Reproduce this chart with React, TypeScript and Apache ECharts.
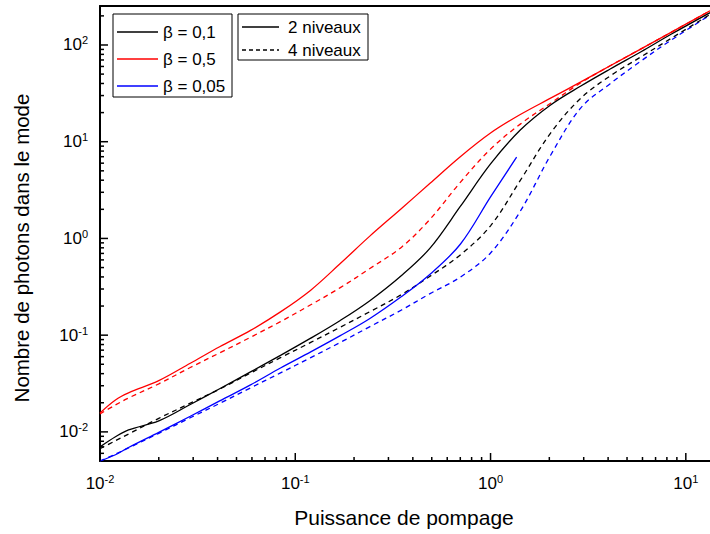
import React, { useEffect, useRef } from "react";
import * as echarts from "echarts";

// Pump power (x) sample points
const pump = [0.01, 0.012, 0.014, 0.02, 0.029, 0.041, 0.059, 0.084, 0.12, 0.17, 0.24, 0.35, 0.49, 0.7, 1.0, 1.42, 2.03, 2.9, 4.1, 5.9, 8.4, 13.3];
const pumpBlue2 = [0.01, 0.012, 0.014, 0.02, 0.029, 0.041, 0.059, 0.084, 0.12, 0.17, 0.24, 0.35, 0.49, 0.7, 1.0, 1.36];

// Photon numbers in the mode
const beta01Two = [0.007, 0.0089, 0.0105, 0.013, 0.0192, 0.0279, 0.0417, 0.0618, 0.0931, 0.142, 0.226, 0.414, 0.794, 2.14, 5.89, 13.2, 24.0, 37.7, 56.5, 85.1, 129, 216];
const beta01Four = [0.0067, 0.0081, 0.0095, 0.0138, 0.0198, 0.0277, 0.0406, 0.0585, 0.0841, 0.121, 0.174, 0.263, 0.407, 0.676, 1.35, 3.98, 12.3, 28.2, 47.9, 75.5, 117, 207];
const beta05Two = [0.0157, 0.0214, 0.0253, 0.0339, 0.0513, 0.0759, 0.112, 0.174, 0.292, 0.55, 1.05, 2.04, 3.72, 7.0, 12.3, 19.1, 28.2, 41.5, 61.0, 91.2, 135, 226];
const beta05Four = [0.0153, 0.019, 0.0224, 0.0314, 0.0463, 0.0656, 0.0951, 0.138, 0.206, 0.31, 0.486, 0.813, 1.58, 3.8, 8.38, 15.2, 25.0, 40.7, 61.0, 91.2, 135, 226];
const beta005Two = [0.005, 0.0058, 0.0069, 0.0099, 0.0145, 0.0209, 0.0306, 0.0458, 0.0672, 0.0989, 0.148, 0.251, 0.427, 0.871, 2.69, 6.92];
const beta005Four = [0.005, 0.00589, 0.00684, 0.00966, 0.014, 0.0197, 0.0285, 0.0407, 0.0586, 0.0841, 0.122, 0.182, 0.269, 0.398, 0.708, 1.91, 7.24, 22.4, 39.8, 68.4, 112, 204];

const xMin = 0.01;
const xMax = 13.3;
const yMin = 0.005;
const yMax = 253;

const legendBeta = ["β = 0,1", "β = 0,5", "β = 0,05"];
const legendBetaColors = ["#000000", "#ff0000", "#0000ff"];
const legendLevels = ["2 niveaux", "4 niveaux"];
const xTitle = "Puissance de pompage";
const yTitle = "Nombre de photons dans le mode";

const FONT = "'Liberation Sans', Arial, Helvetica, sans-serif";

function pairs(xs: number[], ys: number[]) {
  return ys.map((y, i) => [xs[i], y]);
}

function powLabel(v: number) {
  const l = Math.log10(v);
  const e = Math.round(l);
  if (Math.abs(l - e) > 1e-6) return "";
  return "{b|10}{s|" + e + "}";
}

function buildTicks() {
  const out: number[][] = [];
  for (let k = -3; k <= 3; k++) {
    for (let m = 1; m <= 9; m++) {
      const v = m * Math.pow(10, k);
      const major = m === 1 ? 8 : 4;
      if (v >= xMin - 1e-12 && v <= xMax) out.push([v, yMin, major, 0]);
      if (v > yMin + 1e-12 && v <= yMax) out.push([xMin, v, major, 1]);
    }
  }
  return out;
}

const rich = {
  b: { fontSize: 17, fontFamily: FONT, color: "#000", lineHeight: 20 },
  s: { fontSize: 11, fontFamily: FONT, color: "#000", verticalAlign: "top", lineHeight: 12 },
};

export default function App() {
  const ref = useRef<HTMLDivElement>(null);
  useEffect(() => {
    if (!ref.current) return;
    const chart = echarts.init(ref.current, null, { renderer: "svg" });
    const solid = (color: string) => ({ color, width: 1.3, type: "solid" as const });
    const dashed = (color: string) => ({ color, width: 1.3, type: [5, 4] as any });
    const lineSeries = (name: string, data: number[][], style: any) => ({
      name,
      type: "line",
      data,
      showSymbol: false,
      symbol: "none",
      smooth: 0.35,
      lineStyle: style,
      silent: true,
      z: 3,
    });
    chart.setOption({
      animation: false,
      backgroundColor: "#ffffff",
      grid: { left: 100, right: 0, top: 6, bottom: 73, containLabel: false },
      xAxis: [
        {
          type: "log",
          logBase: 10,
          min: xMin,
          max: xMax,
          position: "bottom",
          axisLine: { show: true, lineStyle: { color: "#000", width: 2 } },
          axisTick: { show: false },
          minorTick: { show: false },
          splitLine: { show: false },
          axisLabel: {
            show: true,
            margin: 12,
            formatter: powLabel,
            rich,
            showMinLabel: true,
            showMaxLabel: false,
          },
        },
        {
          type: "log",
          logBase: 10,
          min: xMin,
          max: xMax,
          position: "top",
          axisLine: { show: true, lineStyle: { color: "#000", width: 2 } },
          axisTick: { show: false },
          axisLabel: { show: false },
          splitLine: { show: false },
        },
      ],
      yAxis: [
        {
          type: "log",
          logBase: 10,
          min: yMin,
          max: yMax,
          axisLine: { show: true, lineStyle: { color: "#000", width: 2 } },
          axisTick: { show: false },
          minorTick: { show: false },
          splitLine: { show: false },
          axisLabel: {
            show: true,
            margin: 12,
            formatter: powLabel,
            rich,
            showMinLabel: false,
            showMaxLabel: false,
          },
        },
      ],
      series: [
        lineSeries("β = 0,05 4 niveaux", pairs(pump, beta005Four), dashed("#0000ff")),
        lineSeries("β = 0,1 4 niveaux", pairs(pump, beta01Four), dashed("#000000")),
        lineSeries("β = 0,5 4 niveaux", pairs(pump, beta05Four), dashed("#ff0000")),
        lineSeries("β = 0,05 2 niveaux", pairs(pumpBlue2, beta005Two), solid("#0000ff")),
        lineSeries("β = 0,1 2 niveaux", pairs(pump, beta01Two), solid("#000000")),
        lineSeries("β = 0,5 2 niveaux", pairs(pump, beta05Two), solid("#ff0000")),
        {
          type: "custom",
          name: "ticks",
          coordinateSystem: "cartesian2d",
          silent: true,
          clip: false,
          z: 10,
          encode: { x: 0, y: 1 },
          data: buildTicks(),
          renderItem: (params: any, api: any) => {
            const p = api.coord([api.value(0), api.value(1)]);
            const len = api.value(2);
            const o = api.value(3);
            return {
              type: "line",
              shape: {
                x1: p[0],
                y1: p[1],
                x2: o ? p[0] + len : p[0],
                y2: o ? p[1] : p[1] - len,
              },
              style: { stroke: "#000", lineWidth: 1.5 },
            };
          },
        },
      ],
      graphic: [
        {
          type: "text",
          x: 404,
          y: 517,
          style: { text: xTitle, fontSize: 21, fontFamily: FONT, fill: "#000", align: "center", verticalAlign: "middle" },
        },
        {
          type: "text",
          x: 21,
          y: 248,
          rotation: Math.PI / 2,
          style: { text: yTitle, fontSize: 20.5, fontFamily: FONT, fill: "#000", align: "center", verticalAlign: "middle" },
        },
        {
          type: "rect",
          shape: { x: 113, y: 14, width: 119, height: 83 },
          style: { fill: "#fff", stroke: "#000", lineWidth: 1 },
          z: 20,
        },
        ...legendBeta.flatMap((t, i) => {
          const y = [32, 59, 86][i];
          return [
            {
              type: "line",
              shape: { x1: 117, y1: y, x2: 158, y2: y },
              style: { stroke: legendBetaColors[i], lineWidth: 1.3 },
              z: 21,
            },
            {
              type: "text",
              x: 163,
              y,
              style: { text: t, fontSize: 17, fontFamily: FONT, fill: "#000", align: "left", verticalAlign: "middle" },
              z: 21,
            },
          ];
        }),
        {
          type: "rect",
          shape: { x: 238, y: 14, width: 130, height: 46 },
          style: { fill: "#fff", stroke: "#000", lineWidth: 1 },
          z: 20,
        },
        ...legendLevels.flatMap((t, i) => {
          const y = [27, 50][i];
          return [
            {
              type: "line",
              shape: { x1: 242, y1: y, x2: 279, y2: y },
              style: { stroke: "#000", lineWidth: 1.3, lineDash: i === 0 ? null : [4, 3] },
              z: 21,
            },
            {
              type: "text",
              x: 288,
              y,
              style: { text: t, fontSize: 17, fontFamily: FONT, fill: "#000", align: "left", verticalAlign: "middle" },
              z: 21,
            },
          ];
        }),
      ],
    });
    return () => chart.dispose();
  }, []);
  return <div ref={ref} style={{ position: "absolute", left: 0, top: 0, width: 710, height: 534 }} />;
}
